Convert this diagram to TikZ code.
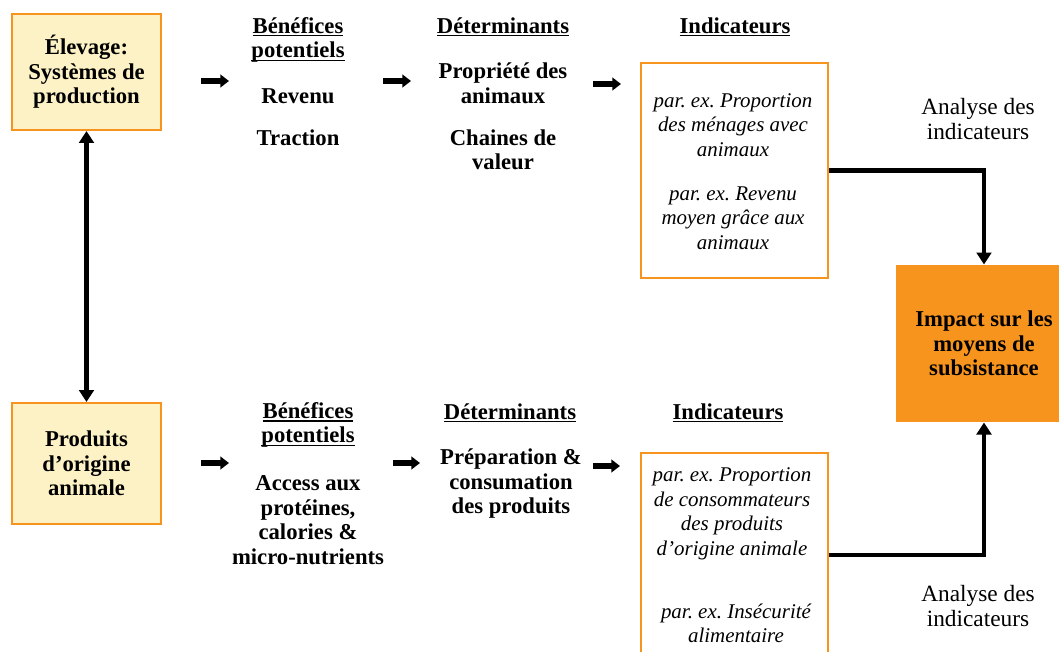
\documentclass[tikz,border=0pt]{standalone}
\usepackage{fontspec}
\setmainfont{Liberation Serif}
\usetikzlibrary{arrows.meta}

\definecolor{orangeline}{RGB}{247,148,29}
\definecolor{paleyellow}{RGB}{253,242,197}

\newsavebox\hdrbox
\newcommand{\hdr}[1]{\sbox\hdrbox{#1}\rlap{\rule[-2.4pt]{\wd\hdrbox}{0.8pt}}\usebox\hdrbox}
\frenchspacing

\tikzset{every picture/.style={line width=0.75pt}}
\tikzset{
  txt/.style={align=center, inner sep=0pt, font=\bfseries\fontsize{17}{18.4}\selectfont},
  ittxt/.style={align=center, inner sep=0pt, font=\itshape\fontsize{15.7}{18.4}\selectfont},
  plaintxt/.style={align=center, inner sep=0pt, font=\fontsize{17.5}{18.4}\selectfont},
  srcbox/.style={draw=orangeline, fill=paleyellow, line width=1.5pt, minimum width=111.75pt, inner sep=0pt, align=center, font=\bfseries\fontsize{17}{18.4}\selectfont},
  indbox/.style={draw=orangeline, fill=white, line width=1.8pt, minimum width=140.25pt, inner sep=0pt},
  impactbox/.style={fill=orangeline, minimum width=132pt, minimum height=117.75pt, inner sep=0pt, align=center, font=\bfseries\fontsize{17}{18.4}\selectfont},
  smallarrow/.style={line width=3.8pt, -{Triangle[length=6.5pt,width=9.5pt]}},
  conn/.style={line width=3.4pt, -{Triangle[length=9pt,width=11pt]}},
  bothconn/.style={line width=3.4pt, {Triangle[length=9pt,width=11pt]}-{Triangle[length=9pt,width=11pt]}}
}

\begin{document}
\begin{tikzpicture}[x=0.75pt,y=0.75pt,yscale=-1,xscale=1]
\useasboundingbox (0,0) rectangle (1059,652);

%Shape: Rectangle [source boxes]
\draw (86.5,72) node (elevage) [srcbox, minimum height=87pt] {\'Elevage:\\Systèmes de\\production};
\draw (86.5,463.5) node (produits) [srcbox, minimum height=90.75pt] {Produits\\d’origine\\animale};
%Straight Lines [double arrow]
\draw [bothconn] (elevage.south) -- (produits.north);

% Text Node [top row]
\draw (298,40) node (benef1) [txt] {\hdr{Bénéfices}\\\hdr{potentiels}};
\draw (298,96) node (revenu) [txt] {Revenu};
\draw (298,138) node (traction) [txt] {Traction};
\draw (503,27) node (determ1) [txt] {\hdr{Déterminants}};
\draw (503,83) node (propriete) [txt] {Propriété des\\animaux};
\draw (503,150) node (chaines) [txt] {Chaines de\\valeur};
\draw (735,27) node (indic1) [txt] {\hdr{Indicateurs}};

%Shape: Rectangle [top indicators]
\draw (734.5,170.5) node (indtop) [indbox, minimum height=161.25pt] {};
\draw (733,125) node (indtopa) [ittxt] {par. ex. Proportion\\des ménages avec\\animaux};
\draw (733,218) node (indtopb) [ittxt] {par. ex. Revenu\\moyen grâce aux\\animaux};

% Text Node [bottom row]
\draw (308,425) node (benef2) [txt] {\hdr{Bénéfices}\\\hdr{potentiels}};
\draw (308,520) node (access) [txt] {Access aux\\protéines,\\calories \&\\micro-nutrients};
\draw (510,413) node (determ2) [txt] {\hdr{Déterminants}};
\draw (511,484) node (preparation) [txt] {Préparation \&\\consumation\\des produits};
\draw (728,413) node (indic2) [txt] {\hdr{Indicateurs}};

%Shape: Rectangle [bottom indicators]
\draw (734.5,576.5) node (indbot) [indbox, minimum height=185.25pt] {};
\draw (732,514) node (indbota) [ittxt] {par. ex. Proportion\\de consommateurs\\des produits\\d’origine animale};
\draw (736,623.5) node (indbotb) [ittxt] {par. ex. Insécurité\\alimentaire};

%Shape: Rectangle [impact]
\draw (984,343.5) node (impact) [impactbox] {Impact sur les\\moyens de\\subsistance};

% Text Node [analyse]
\draw (978,119) node (analyse1) [plaintxt] {Analyse des\\indicateurs};
\draw (978,606) node (analyse2) [plaintxt] {Analyse des\\indicateurs};

%Straight Lines [small arrows]
\coordinate (t1a) at (201,81);  \coordinate (t1b) at (229,81);
\coordinate (t2a) at (383,81);  \coordinate (t2b) at (411,81);
\coordinate (t3a) at (593,84);  \coordinate (t3b) at (621,84);
\coordinate (b1a) at (201,463); \coordinate (b1b) at (229,463);
\coordinate (b2a) at (393,463); \coordinate (b2b) at (420,463);
\coordinate (b3a) at (593,466); \coordinate (b3b) at (620,466);
\foreach \s/\e in {t1a/t1b,t2a/t2b,t3a/t3b,b1a/b1b,b2a/b2b,b3a/b3b}
  \draw [smallarrow] (\s) -- (\e);

%Straight Lines [connectors to impact]
\draw [conn] (indtop.east) -| (impact.north);
\draw [conn] ([yshift=-16pt]indbot.east) -| (impact.south);

\end{tikzpicture}
\end{document}
